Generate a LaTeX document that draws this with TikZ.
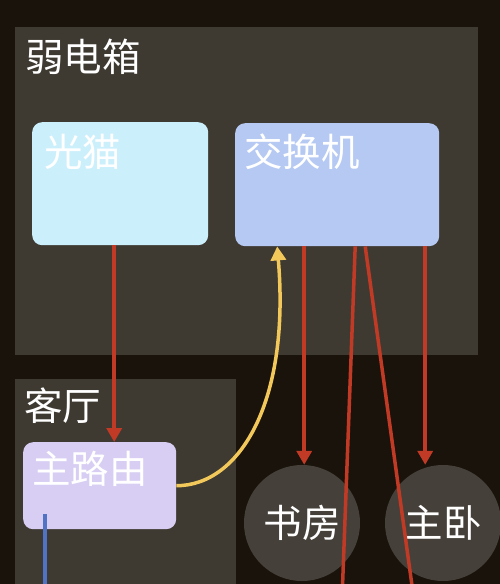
\documentclass[tikz,border=0pt]{standalone}
\usepackage{fontspec}
\newfontfamily\cjk{Noto Sans CJK SC}
\usetikzlibrary{arrows.meta,calc}
\definecolor{bgdark}{HTML}{1A130B}
\definecolor{panelgray}{HTML}{3E3A32}
\definecolor{roomgray}{HTML}{45413A}
\definecolor{modemcyan}{HTML}{CCEFFC}
\definecolor{switchblue}{HTML}{B5C9F3}
\definecolor{routerlilac}{HTML}{D8CEF3}
\definecolor{wirered}{HTML}{C03A26}
\definecolor{wireyellow}{HTML}{F2C85B}
\definecolor{wireblue}{HTML}{4F74C4}
\tikzset{
	panelbox/.style={fill=panelgray, inner sep=0, anchor=north west},
	devbox/.style={rounded corners=10pt, inner sep=0, anchor=north west},
	tag/.style={text=white, font=\cjk\fontsize{38.5}{40}\selectfont, inner sep=0, anchor=west},
	room/.style={circle, fill=roomgray, minimum size=116pt, inner sep=0, text=white, font=\cjk\fontsize{38.5}{40}\selectfont},
	redwire/.style={draw=wirered, line width=3.5pt},
	redarrow/.style={redwire, -{Triangle[width=15pt,length=14pt]}},
}

\begin{document}
\begin{tikzpicture}[x=1pt, y=-1pt]
		%%%%% START %%%%%
		
		\fill[bgdark] (0, 0) rectangle (500, 584);
		\useasboundingbox (0, 0) rectangle (500, 584);
		
		\node[panelbox, minimum width=463pt, minimum height=328pt] (cabinet) at (15, 27) {};
		\node[tag] at ([shift={(10, 30)}]cabinet.north west) {弱电箱};
		\node[panelbox, minimum width=221pt, minimum height=230pt] (living) at (15, 379) {};
		\node[tag] at ([shift={(9, 27)}]living.north west) {客厅};
		
		\node[devbox, fill=modemcyan, minimum width=176pt, minimum height=123pt] (modem) at (32, 122) {};
		\node[tag] at ([shift={(12, 30)}]modem.north west) {光猫};
		\node[devbox, fill=switchblue, minimum width=204pt, minimum height=123pt] (switch) at (235, 123) {};
		\node[tag] at ([shift={(9, 29)}]switch.north west) {交换机};
		\node[devbox, fill=routerlilac, minimum width=153pt, minimum height=87pt] (router) at (23, 442) {};
		\node[tag] at ([shift={(9, 27)}]router.north west) {主路由};
		
		\node[room] (study) at (302, 523) {书房};
		\node[room] (bedroom) at (443, 523) {主卧};
		
		\coordinate (runa) at (342, 600);
		\coordinate (runb) at (414, 600);
		\coordinate (lanend) at (45, 600);
		
		\draw[redarrow] ([xshift=-6pt]modem.south) -- ([xshift=-6pt]modem.south |- router.north);
		\draw[redarrow] ([xshift=-33pt]switch.south) -- ([xshift=-33pt]switch.south |- study.north);
		\draw[redarrow] ([xshift=88pt]switch.south) -- ([xshift=88pt]switch.south |- bedroom.north);
		\draw[redwire] ([xshift=18pt]switch.south) -- (runa);
		\draw[redwire] ([xshift=28pt]switch.south) -- (runb);
		
		\draw[wireyellow, line width=3.5pt, -{Triangle[width=15pt,length=14pt]}] (router.east) .. controls +(64, 0) and +(13, 154) .. ([xshift=-60pt]switch.south);
		\draw[wireblue, line width=3.5pt] ([shift={(22, -15)}]router.south west) -- (lanend);
		
		%%%%% END %%%%%
	\end{tikzpicture}
\end{document}
